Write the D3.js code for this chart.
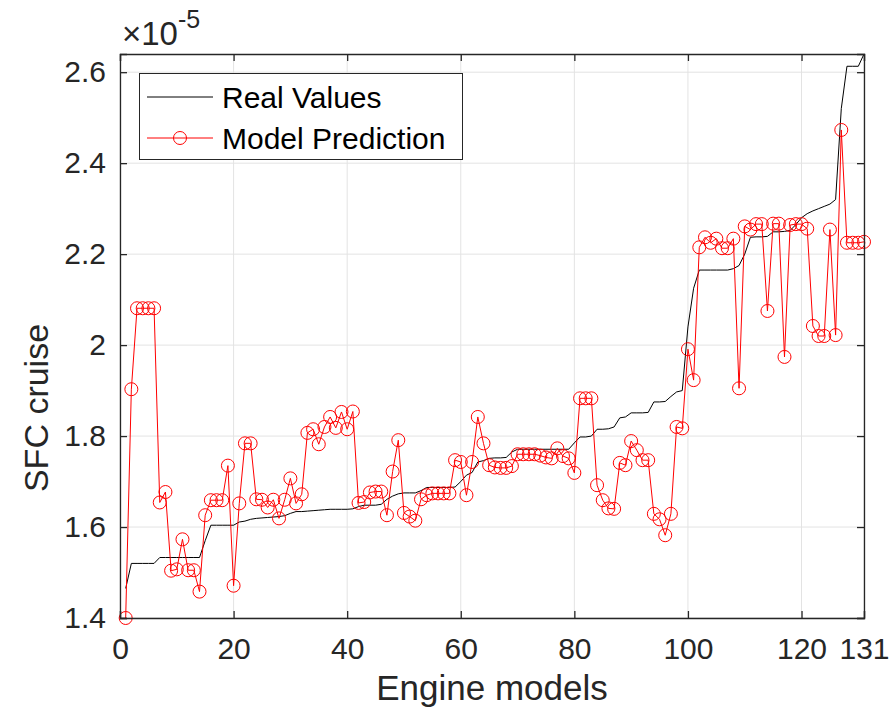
<!DOCTYPE html>
<html>
<head>
<meta charset="utf-8">
<script src="https://cdn.jsdelivr.net/npm/d3@7"></script>
<style>
  html, body { margin: 0; padding: 0; background: #fff; }
  svg { display: block; font-family: "Liberation Sans", Arial, Helvetica, sans-serif; }
</style>
</head>
<body>
<svg id="chart" width="895" height="724"></svg>
<script>
// Values in units of 1e-5
const realValues = [
  1.465, 1.52, 1.52, 1.52, 1.52, 1.52, 1.533, 1.533, 1.533, 1.533,
  1.533, 1.533, 1.533, 1.533, 1.57, 1.604, 1.604, 1.604, 1.604, 1.604,
  1.611, 1.613, 1.617, 1.619, 1.620, 1.621, 1.622, 1.623, 1.625, 1.630,
  1.634, 1.634, 1.635, 1.636, 1.637, 1.638, 1.639, 1.639, 1.639, 1.639,
  1.640, 1.645, 1.648, 1.648, 1.648, 1.650, 1.661, 1.668, 1.673, 1.675,
  1.675, 1.675, 1.680, 1.687, 1.687, 1.687, 1.687, 1.687, 1.688, 1.700,
  1.714, 1.720, 1.743, 1.746, 1.751, 1.752, 1.752, 1.753, 1.765, 1.771,
  1.771, 1.771, 1.771, 1.771, 1.771, 1.771, 1.771, 1.771, 1.771, 1.785,
  1.798, 1.798, 1.800, 1.815, 1.815, 1.816, 1.820, 1.840, 1.842, 1.851,
  1.851, 1.851, 1.852, 1.875, 1.875, 1.876, 1.887, 1.897, 1.900, 2.040,
  2.125, 2.165, 2.165, 2.165, 2.165, 2.165, 2.165, 2.168, 2.175, 2.200,
  2.237, 2.238, 2.238, 2.239, 2.249, 2.249, 2.250, 2.252, 2.265, 2.280,
  2.289, 2.295, 2.300, 2.305, 2.310, 2.320, 2.520, 2.613, 2.613, 2.613,
  2.640
];
const modelPrediction = [
  1.400, 1.903, 2.081, 2.081, 2.081, 2.081, 1.654, 1.677, 1.504, 1.507,
  1.573, 1.505, 1.505, 1.458, 1.626, 1.659, 1.659, 1.659, 1.735, 1.471,
  1.652, 1.784, 1.784, 1.661, 1.660, 1.643, 1.660, 1.619, 1.660, 1.707,
  1.652, 1.672, 1.807, 1.815, 1.782, 1.820, 1.842, 1.818, 1.853, 1.815,
  1.854, 1.653, 1.655, 1.676, 1.678, 1.678, 1.626, 1.722, 1.791, 1.631,
  1.623, 1.614, 1.661, 1.670, 1.674, 1.674, 1.674, 1.674, 1.747, 1.743,
  1.670, 1.743, 1.842, 1.784, 1.736, 1.731, 1.730, 1.730, 1.734, 1.760,
  1.760, 1.760, 1.760, 1.757, 1.753, 1.751, 1.773, 1.756, 1.751, 1.719,
  1.883, 1.883, 1.883, 1.692, 1.659, 1.641, 1.640, 1.741, 1.736, 1.789,
  1.769, 1.747, 1.747, 1.629, 1.617, 1.582, 1.629, 1.820, 1.817, 1.991,
  1.923, 2.215, 2.237, 2.225, 2.234, 2.213, 2.213, 2.234, 1.905, 2.261,
  2.254, 2.266, 2.266, 2.075, 2.267, 2.267, 1.974, 2.264, 2.266, 2.266,
  2.256, 2.042, 2.020, 2.020, 2.254, 2.022, 2.473, 2.225, 2.225, 2.225,
  2.227
];
const xTicks = [0, 20, 40, 60, 80, 100, 120, 131];
const yTicks = [1.4, 1.6, 1.8, 2.0, 2.2, 2.4, 2.6];
const yTickLabels = ["1.4", "1.6", "1.8", "2", "2.2", "2.4", "2.6"];
const seriesNames = ["Real Values", "Model Prediction"];
const xLabel = "Engine models";
const yLabel = "SFC cruise";

const svg = d3.select("#chart");
const L = 120, R = 864, T = 54, B = 618;
const axisColor = "#262626";

const x = d3.scaleLinear().domain([0, 131]).range([L, R]);
const y = d3.scaleLinear().domain([1.4, 2.64]).range([B, T]);

// grid
const grid = svg.append("g");
grid.selectAll(".gx").data(xTicks).enter().append("line")
  .attr("x1", d => x(d)).attr("x2", d => x(d)).attr("y1", T).attr("y2", B)
  .attr("stroke", "#e3e3e3").attr("stroke-width", 1);
grid.selectAll(".gy").data(yTicks).enter().append("line")
  .attr("x1", L).attr("x2", R).attr("y1", d => y(d)).attr("y2", d => y(d))
  .attr("stroke", "#e3e3e3").attr("stroke-width", 1);

// data
const idx = d3.range(1, realValues.length + 1);
const line = d3.line().x(d => x(d[0])).y(d => y(d[1]));
svg.append("path")
  .datum(idx.map((i, k) => [i, realValues[k]]))
  .attr("d", line).attr("fill", "none").attr("stroke", "#000").attr("stroke-width", 1);

const predData = idx.map((i, k) => [i, modelPrediction[k]]);
svg.append("path")
  .datum(predData)
  .attr("d", line).attr("fill", "none").attr("stroke", "#ff0000").attr("stroke-width", 1);
svg.append("g").selectAll("circle").data(predData).enter().append("circle")
  .attr("cx", d => x(d[0])).attr("cy", d => y(d[1])).attr("r", 6.5)
  .attr("fill", "none").attr("stroke", "#ff0000").attr("stroke-width", 1);

// axes box with inward ticks on all sides
const ax = svg.append("g");
const xAxisB = d3.axisBottom(x).tickValues(xTicks).tickSize(-7).tickPadding(20).tickFormat(d3.format("d"));
const xAxisT = d3.axisTop(x).tickValues(xTicks).tickSize(-7).tickFormat("");
const yAxisL = d3.axisLeft(y).tickValues(yTicks).tickSize(-7).tickPadding(14).tickFormat((d, i) => yTickLabels[i]);
const yAxisR = d3.axisRight(y).tickValues(yTicks).tickSize(-7).tickFormat("");

function styleAxis(g) {
  g.select(".domain").attr("stroke", axisColor).attr("stroke-width", 1.3);
  g.selectAll(".tick line").attr("stroke", axisColor).attr("stroke-width", 1.3);
  g.selectAll(".tick text").attr("fill", axisColor).style("font-size", "30px")
    .style("font-family", '"Liberation Sans", Arial, sans-serif');
}
ax.append("g").attr("transform", `translate(0,${B})`).call(xAxisB).call(styleAxis);
ax.append("g").attr("transform", `translate(0,${T})`).call(xAxisT).call(styleAxis);
ax.append("g").attr("transform", `translate(${L},0)`).call(yAxisL).call(styleAxis);
ax.append("g").attr("transform", `translate(${R},0)`).call(yAxisR).call(styleAxis);

// exponent label
const expG = svg.append("text").attr("x", 122).attr("y", 45).attr("fill", axisColor)
  .style("font-size", "33px");
expG.append("tspan").text("\u00d710");
expG.append("tspan").attr("dy", -17).style("font-size", "25px").text("-5");

// axis labels
svg.append("text").attr("x", (L + R) / 2).attr("y", 700).attr("text-anchor", "middle")
  .attr("fill", axisColor).style("font-size", "35px").text(xLabel);
svg.append("text").attr("transform", `translate(48,408) rotate(-90)`)
  .attr("text-anchor", "middle").attr("fill", axisColor).style("font-size", "34px").text(yLabel);

// legend
const lg = svg.append("g");
lg.append("rect").attr("x", 139.5).attr("y", 73.5).attr("width", 323).attr("height", 86)
  .attr("fill", "#fff").attr("stroke", axisColor).attr("stroke-width", 1);
const lgY = [97, 138];
lg.append("line").attr("x1", 147).attr("x2", 213).attr("y1", lgY[0]).attr("y2", lgY[0])
  .attr("stroke", "#000").attr("stroke-width", 1);
lg.append("line").attr("x1", 147).attr("x2", 213).attr("y1", lgY[1]).attr("y2", lgY[1])
  .attr("stroke", "#ff0000").attr("stroke-width", 1);
lg.append("circle").attr("cx", 180).attr("cy", lgY[1]).attr("r", 6.5)
  .attr("fill", "none").attr("stroke", "#ff0000").attr("stroke-width", 1);
lg.selectAll(".lt").data(seriesNames).enter().append("text")
  .attr("x", 222).attr("y", (d, i) => lgY[i] + 11).attr("fill", "#000")
  .style("font-size", "30px").text(d => d);
</script>
</body>
</html>
